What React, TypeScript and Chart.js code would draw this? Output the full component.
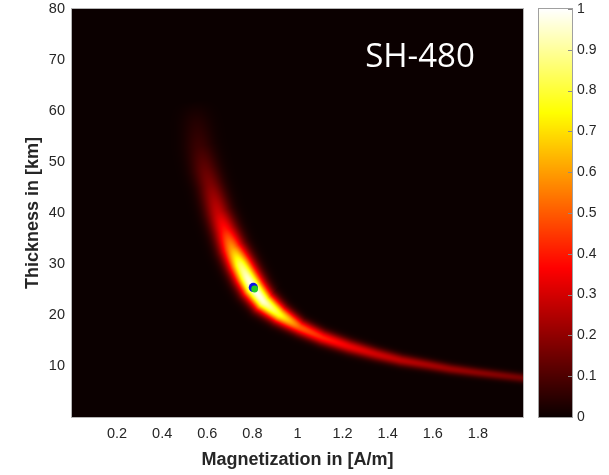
import React, { useEffect, useRef } from 'react';
import { Chart, registerables } from 'chart.js';

Chart.register(...registerables);

// ---- data ----
const xTicks = [0.2, 0.4, 0.6, 0.8, 1, 1.2, 1.4, 1.6, 1.8];
const yTicks = [10, 20, 30, 40, 50, 60, 70, 80];
const cbTicks = [0, 0.1, 0.2, 0.3, 0.4, 0.5, 0.6, 0.7, 0.8, 0.9, 1];

// ridge of the likelihood field: magnetization [A/m], thickness [km], peak value, spread [km]
const ridgeM = [0.545, 0.552, 0.565, 0.59, 0.612, 0.648, 0.678, 0.71, 0.745, 0.775, 0.804, 0.85, 0.92, 1.01, 1.11, 1.23, 1.35, 1.46, 1.58, 1.68, 1.8, 1.99, 2.06];
const ridgeT = [62, 58, 53, 48.5, 45.5, 40, 36.6, 33, 30, 27.5, 25.3, 22.6, 20.1, 17.6, 15.6, 13.8, 12.3, 11.1, 10.2, 9.4, 8.7, 7.7, 7.4];
const ridgePeak = [0.0, 0.035, 0.07, 0.13, 0.17, 0.28, 0.4, 0.6, 0.83, 0.94, 1.0, 0.95, 0.77, 0.5, 0.41, 0.34, 0.29, 0.26, 0.23, 0.21, 0.19, 0.16, 0.16];
const ridgeSpread = [2.0, 2.0, 1.95, 1.85, 1.75, 1.7, 1.68, 1.66, 1.64, 1.62, 1.58, 1.45, 1.25, 1.05, 0.98, 0.93, 0.85, 0.78, 0.72, 0.68, 0.65, 0.62, 0.62];

const trueModel = [{ x: 0.804, y: 25.4 }];
const bestFit = [{ x: 0.81, y: 25.1 }];
const panelLabel = 'SH-480';
const xTitle = 'Magnetization in [A/m]';
const yTitle = 'Thickness in [km]';

const FONT = '"Liberation Sans", Arial, sans-serif';
const TEXT = '#262626';

function clamp01(v: number) {
  return v < 0 ? 0 : v > 1 ? 1 : v;
}
function hot(v: number): [number, number, number] {
  const s = clamp01(v) * 63 + 1;
  return [clamp01(s / 24) * 255, clamp01((s - 24) / 24) * 255, clamp01((s - 48) / 16) * 255];
}

const heatmapPlugin = {
  id: 'heatmap',
  beforeDatasetsDraw(chart: any) {
    const { ctx, chartArea: a, scales } = chart;
    const xs = scales.x;
    const ys = scales.y;
    const w = Math.round(a.right - a.left);
    const h = Math.round(a.bottom - a.top);
    const img = ctx.createImageData(w, h);
    const y0 = ys.getPixelForValue(0);
    const P = ridgeM.map((m, i) => ({
      x: xs.getPixelForValue(m) - a.left,
      y: ys.getPixelForValue(ridgeT[i]) - a.top,
      p: ridgePeak[i],
      s: Math.abs(y0 - ys.getPixelForValue(ridgeSpread[i])),
    }));
    for (let j = 0; j < h; j++) {
      for (let i = 0; i < w; i++) {
        const px = i + 0.5;
        const py = j + 0.5;
        let best = Infinity;
        let bp = 0;
        let bs = 1;
        for (let k = 0; k < P.length - 1; k++) {
          const A = P[k];
          const B = P[k + 1];
          const dx = B.x - A.x;
          const dy = B.y - A.y;
          const L = dx * dx + dy * dy;
          let t = ((px - A.x) * dx + (py - A.y) * dy) / L;
          t = t < 0 ? 0 : t > 1 ? 1 : t;
          const qx = A.x + t * dx - px;
          const qy = A.y + t * dy - py;
          const d = qx * qx + qy * qy;
          if (d < best) {
            best = d;
            bp = A.p + t * (B.p - A.p);
            bs = A.s + t * (B.s - A.s);
          }
        }
        const v = bp * Math.exp(-best / (2 * bs * bs));
        const c = hot(v);
        const o = (j * w + i) * 4;
        img.data[o] = c[0];
        img.data[o + 1] = c[1];
        img.data[o + 2] = c[2];
        img.data[o + 3] = 255;
      }
    }
    ctx.putImageData(img, a.left, a.top);
    ctx.save();
    ctx.strokeStyle = '#b4b4b4';
    ctx.lineWidth = 1;
    ctx.strokeRect(a.left - 0.5, a.top - 0.5, w + 1, h + 1);
    ctx.fillStyle = '#ffffff';
    ctx.font = '33px "Open Sans", sans-serif';
    ctx.textBaseline = 'alphabetic';
    ctx.textAlign = 'left';
    ctx.fillText(panelLabel, xs.getPixelForValue(1.3), ys.getPixelForValue(68.6));
    ctx.restore();
  },
};

const colorbarPlugin = {
  id: 'colorbar',
  beforeDatasetsDraw(chart: any) {
    const { ctx, chartArea: a, scales } = chart;
    const ys = scales.y;
    ctx.save();
    for (let py = Math.floor(a.top); py < a.bottom; py++) {
      const v = ys.getValueForPixel(py + 0.5);
      const c = hot(v);
      ctx.fillStyle = `rgb(${c[0]},${c[1]},${c[2]})`;
      ctx.fillRect(a.left, py, a.right - a.left, 1);
    }
    ctx.strokeStyle = '#8c8c8c';
    ctx.lineWidth = 1;
    for (const t of cbTicks) {
      const py = Math.round(ys.getPixelForValue(t)) + 0.5;
      ctx.beginPath();
      ctx.moveTo(a.right - 4, py);
      ctx.lineTo(a.right, py);
      ctx.stroke();
    }
    ctx.strokeStyle = '#a0a0a0';
    ctx.strokeRect(a.left - 0.5, a.top - 0.5, a.right - a.left + 1, a.bottom - a.top + 1);
    ctx.restore();
  },
};

const noPad = (s: any) => {
  s.paddingTop = 0;
  s.paddingBottom = 0;
  s.paddingLeft = 0;
  s.paddingRight = 0;
};

export default function App() {
  const mainRef = useRef<HTMLCanvasElement>(null);
  const cbRef = useRef<HTMLCanvasElement>(null);

  useEffect(() => {
    const main = new Chart(mainRef.current as HTMLCanvasElement, {
      type: 'scatter',
      data: {
        datasets: [
          { data: bestFit, pointRadius: 3.4, pointBackgroundColor: '#22cc22', pointBorderWidth: 0, borderWidth: 0 },
          { data: trueModel, pointRadius: 4.6, pointBackgroundColor: '#0a14e6', pointBorderWidth: 0, borderWidth: 0 },
        ],
      },
      options: {
        animation: false,
        responsive: false,
        layout: { padding: { top: 9, right: 7, left: 0, bottom: 0 } },
        plugins: { legend: { display: false }, tooltip: { enabled: false } },
        scales: {
          x: {
            type: 'linear',
            min: 0,
            max: 2,
            afterBuildTicks: (s: any) => {
              s.ticks = xTicks.map((v) => ({ value: v }));
            },
            afterFit: (s: any) => {
              s.height = 58;
              noPad(s);
            },
            ticks: {
              callback: (v: any) => String(v),
              font: { family: FONT, size: 14.5 },
              color: TEXT,
              padding: 8,
              maxRotation: 0,
              autoSkip: false,
            },
            grid: { display: false, drawTicks: false },
            border: { display: false },
            title: {
              display: true,
              text: xTitle,
              font: { family: FONT, size: 18, weight: 'bold' },
              color: TEXT,
              padding: { top: 0, bottom: 4 },
            },
          },
          y: {
            type: 'linear',
            min: 0,
            max: 80,
            afterBuildTicks: (s: any) => {
              s.ticks = yTicks.map((v) => ({ value: v }));
            },
            afterFit: (s: any) => {
              s.width = 72;
              noPad(s);
            },
            ticks: {
              callback: (v: any) => String(v),
              font: { family: FONT, size: 14.5 },
              color: TEXT,
              padding: 7,
              autoSkip: false,
            },
            grid: { display: false, drawTicks: false },
            border: { display: false },
            title: {
              display: true,
              text: yTitle,
              font: { family: FONT, size: 18, weight: 'bold' },
              color: TEXT,
              padding: { top: 22, bottom: 0 },
            },
          },
        },
      } as any,
      plugins: [heatmapPlugin],
    });

    const cb = new Chart(cbRef.current as HTMLCanvasElement, {
      type: 'scatter',
      data: { datasets: [] },
      options: {
        animation: false,
        responsive: false,
        layout: { padding: { top: 9, right: 0, left: 9, bottom: 58 } },
        plugins: { legend: { display: false }, tooltip: { enabled: false } },
        scales: {
          x: { display: false, min: 0, max: 1 },
          y: {
            type: 'linear',
            position: 'right',
            min: 0,
            max: 1,
            afterBuildTicks: (s: any) => {
              s.ticks = cbTicks.map((v) => ({ value: v }));
            },
            afterFit: (s: any) => {
              s.width = 37;
              noPad(s);
            },
            ticks: {
              callback: (v: any) => String(v),
              font: { family: FONT, size: 14 },
              color: TEXT,
              padding: 5,
              autoSkip: false,
            },
            grid: { display: false, drawTicks: false },
            border: { display: false },
          },
        },
      } as any,
      plugins: [colorbarPlugin],
    });

    return () => {
      main.destroy();
      cb.destroy();
    };
  }, []);

  return (
    <div style={{ position: 'fixed', left: 0, top: 0, width: 609, height: 475, background: '#ffffff' }}>
      <canvas ref={mainRef} width={530} height={475} style={{ position: 'absolute', left: 0, top: 0, display: 'block' }} />
      <canvas ref={cbRef} width={79} height={475} style={{ position: 'absolute', left: 530, top: 0, display: 'block' }} />
    </div>
  );
}
